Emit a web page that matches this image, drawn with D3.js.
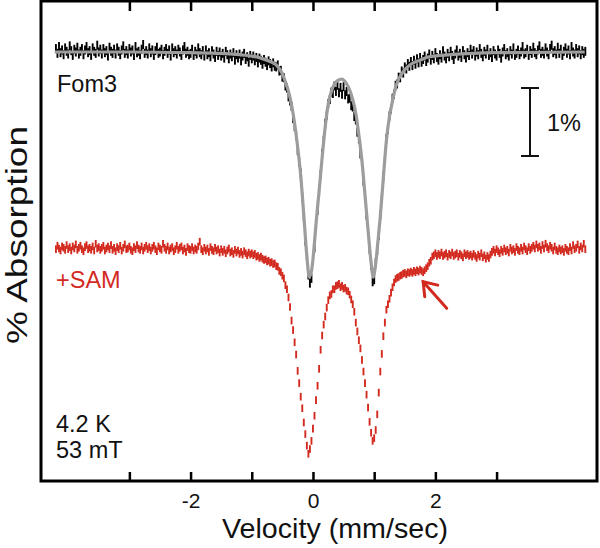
<!DOCTYPE html>
<html>
<head>
<meta charset="utf-8">
<script src="https://cdn.jsdelivr.net/npm/d3@7"></script>
<style>
  html, body { margin: 0; padding: 0; background: #fff; }
  svg text { font-family: "Liberation Sans", Arial, Helvetica, sans-serif; }
</style>
</head>
<body>
<svg id="chart" width="600" height="548"></svg>
<script>
// ---------------- data ----------------
// channel calibration of the velocity axis (mm/sec)
const velocityStart = -4.2;
const velocityStep = 0.025;

// Fom3 (black) — % absorption per channel
const fom3Data = [
-0.05,0.02,-0.08,0.01,-0.03,0.04,-0.06,-0.01,0.03,-0.09,
-0.02,0.05,-0.04,0.00,-0.07,0.03,-0.01,-0.05,0.04,-0.03,
-0.08,0.01,-0.02,0.05,-0.06,-0.01,0.02,-0.10,0.00,-0.04,
0.03,-0.05,0.01,-0.02,0.06,-0.07,-0.01,0.02,-0.04,0.03,
-0.06,-0.01,0.04,-0.03,-0.09,0.02,-0.02,0.03,-0.05,0.00,
-0.03,0.05,-0.08,0.01,-0.01,0.04,-0.04,-0.11,0.02,-0.02,
0.03,-0.06,0.01,-0.03,0.05,-0.02,-0.07,0.02,0.00,-0.04,
0.04,-0.01,-0.05,0.02,-0.03,0.06,-0.06,0.01,-0.02,0.03,
-0.04,0.00,0.05,-0.03,-0.08,0.02,-0.01,0.04,
0.02,-0.04,0.05,-0.01,0.03,-0.06,0.01,0.04,-0.02,0.06,
-0.03,0.04,0.01,0.07,-0.02,0.03,0.08,-0.01,0.05,0.00,
0.06,0.02,0.09,-0.01,0.04,0.10,0.03,0.07,0.01,0.12,
0.04,0.09,0.03,0.13,0.06,0.02,0.11,0.07,0.15,0.05,
0.10,0.06,0.13,0.08,0.16,0.09,0.12,0.18,0.11,0.15,0.20,0.13,0.17,0.22,0.16,0.21,
0.22,0.19,0.28,0.27,0.37,0.38,0.50,0.53,0.66,0.72,0.80,0.98,1.10,1.23,1.45,1.62,1.78,2.13,2.42,2.78,3.00,3.28,3.40,3.33,
3.06,2.88,2.55,2.33,2.06,1.80,1.49,1.30,1.05,0.93,0.76,0.70,0.59,0.61,0.50,0.58,
0.49,0.60,0.52,0.62,0.51,0.63,0.58,0.69,0.68,0.79,0.81,0.95,1.00,1.18,1.28,1.50,
1.63,1.90,2.10,2.40,2.60,2.90,3.14,3.38,3.35,3.10,2.92,2.70,2.40,2.17,1.83,1.60,
1.27,1.14,0.94,0.84,0.68,0.62,0.49,0.47,0.37,0.38,0.28,0.31,0.22,0.25,0.17,0.21,
0.14,0.20,0.12,0.18,0.10,0.16,0.08,0.15,0.11,0.06,0.14,0.09,0.03,0.12,0.05,0.10,
0.01,0.08,0.12,0.04,0.09,-0.02,0.06,0.10,0.02,0.07,-0.01,0.05,0.11,0.03,-0.03,0.06,
0.02,0.08,-0.02,0.04,0.09,0.01,0.05,-0.04,
0.03,-0.02,0.06,0.00,0.04,-0.05,0.02,0.07,-0.01,0.03,
-0.04,0.05,0.01,0.08,-0.02,0.03,0.06,-0.03,0.02,0.09,
0.00,-0.05,0.04,0.01,0.06,-0.02,0.03,-0.06,0.05,0.02,
-0.03,0.04,0.00,-0.08,0.03,0.01,-0.04,0.05,-0.02,0.02,
-0.07,0.01,0.04,-0.03,-0.09,0.02,-0.01,0.03,-0.06,0.00,
0.04,-0.05,-0.10,0.01,-0.02,0.03,-0.07,0.02,-0.04,0.05,
-0.01,-0.06,0.02,-0.03,0.04,-0.08,0.00,0.03,-0.05,0.01,
-0.03,0.04,-0.02,0.02,-0.01
];

// +SAM (red) — % absorption per channel
const samData = [
0.02,-0.03,0.01,0.04,-0.02,0.00,0.03,-0.04,0.02,-0.01,
0.04,-0.02,0.01,-0.05,0.03,0.00,-0.03,0.02,0.05,-0.01,
-0.04,0.02,0.00,0.03,-0.02,0.04,-0.06,0.01,-0.01,0.03,
0.00,-0.03,0.04,0.01,-0.02,0.02,-0.04,0.03,0.00,0.05,
-0.01,0.02,-0.03,0.04,0.00,-0.05,0.02,0.01,-0.02,0.03,
0.05,-0.01,0.02,-0.04,0.01,0.03,-0.02,0.04,0.00,-0.03,
0.02,-0.01,0.04,0.00,-0.03,0.02,0.05,-0.02,0.01,0.03,
-0.06,0.00,0.03,-0.02,0.04,0.01,-0.01,0.05,0.02,-0.03,
0.03,0.00,-0.02,0.04,0.01,0.06,-0.01,0.02,
0.03,-0.01,0.04,0.01,0.03,-0.02,-0.09,0.02,0.05,0.00,
0.04,0.01,0.06,-0.01,0.03,0.05,0.00,0.04,0.02,0.07,
0.02,0.06,0.03,0.08,0.04,0.01,0.07,0.05,0.09,0.03,
0.07,0.04,0.09,0.06,0.10,0.05,0.08,0.11,0.07,0.10,
0.08,0.11,0.09,0.13,0.12,0.15,0.13,0.16,0.18,0.17,0.20,0.19,0.22,0.21,0.24,0.23,
0.27,0.28,0.34,0.36,0.41,0.45,0.55,0.61,0.73,0.87,1.07,1.21,1.39,1.57,1.81,1.99,2.19,2.36,2.57,2.74,2.91,3.03,2.96,2.84,
2.66,2.47,2.24,2.03,1.78,1.50,1.29,1.13,1.01,0.88,0.77,0.70,0.68,0.61,0.61,0.56,
0.55,0.53,0.58,0.56,0.60,0.59,0.63,0.64,0.69,0.76,0.83,0.94,1.10,1.23,1.36,1.48,
1.65,1.82,1.99,2.16,2.35,2.56,2.72,2.84,2.80,2.68,2.45,2.13,1.82,1.56,1.30,1.10,
0.91,0.83,0.75,0.66,0.58,0.51,0.46,0.44,0.43,0.41,0.40,0.38,0.37,0.39,0.36,0.37,
0.35,0.37,0.34,0.36,0.33,0.35,0.32,0.34,0.36,0.33,0.30,0.27,0.22,0.19,0.13,0.11,
0.08,0.12,0.09,0.11,0.07,0.12,0.10,0.08,0.13,0.09,0.11,0.07,0.12,0.10,0.08,0.13,
0.09,0.11,0.14,0.08,0.11,0.09,0.12,0.10,
0.13,0.09,0.12,0.15,0.10,0.13,0.08,0.14,0.11,0.16,
0.12,0.15,0.10,0.06,0.03,0.07,0.02,0.05,0.08,0.03,
0.06,0.01,0.05,0.03,0.07,0.00,0.04,0.02,0.06,-0.01,
0.03,0.05,0.00,0.04,-0.02,0.02,0.05,-0.01,0.03,0.00,
-0.03,0.01,-0.05,0.00,-0.02,0.03,-0.04,0.01,-0.06,-0.01,
0.02,-0.03,0.00,0.04,-0.02,0.03,0.05,0.01,0.04,0.02,
0.06,0.00,0.03,0.05,-0.01,0.04,-0.04,0.02,0.00,-0.05,
0.03,-0.02,0.01,-0.06,0.02
];

// fit to Fom3 (grey line)
const fitVelocity = [-4.22,-3.0,-2.0,-1.5,-1.2,-1.0,-0.85,-0.7,-0.6,-0.5,-0.45,-0.4,-0.35,-0.3,-0.25,-0.2,-0.15,-0.1,-0.06,-0.02,
  0.02,0.06,0.1,0.15,0.2,0.25,0.3,0.35,0.4,0.47,0.55,0.6,0.65,0.7,0.75,0.8,0.85,0.9,0.95,0.985,
  1.02,1.06,1.1,1.15,1.2,1.25,1.3,1.35,1.4,1.5,1.6,1.75,1.9,2.25,3.0,4.44];
const fitAbsorption = [0.00,0.00,0.01,0.02,0.04,0.06,0.09,0.14,0.19,0.32,0.44,0.58,0.78,1.05,1.40,1.82,2.40,3.00,3.31,3.20,
  2.85,2.42,2.05,1.55,1.10,0.76,0.58,0.47,0.42,0.40,0.47,0.56,0.70,0.90,1.22,1.60,2.10,2.62,3.10,3.31,
  3.15,2.80,2.42,1.85,1.30,0.95,0.72,0.52,0.40,0.26,0.18,0.12,0.07,0.04,0.01,0.00];

const samOffset = 2.88;          // vertical offset of the +SAM trace (%)
const xTickValues = [-3, -2, -1, 0, 1, 2, 3];
const xTickLabels = ["", "-2", "", "0", "", "2", ""];
const scaleBarPercent = 1;

// ---------------- layout ----------------
const svg = d3.select("#chart");
const pLeft = 41, pRight = 597, pTop = 1, pBottom = 481;
const RED = "#d32a1f";

const x = d3.scaleLinear().domain([-4.444, 4.641]).range([pLeft, pRight]);
const y = d3.scaleLinear().domain([-0.75, 6.31]).range([pTop, pBottom]);

const toPoints = arr => arr.map((a, i) => ({ v: velocityStart + i * velocityStep, a }));

function drawData(arr, offset, color, half) {
  svg.append("g")
    .selectAll("line")
    .data(toPoints(arr))
    .join("line")
    .attr("x1", d => x(d.v)).attr("x2", d => x(d.v))
    .attr("y1", d => y(d.a + offset) - half)
    .attr("y2", d => y(d.a + offset) + half)
    .attr("stroke", color)
    .attr("stroke-width", 1.9);
}
drawData(fom3Data, 0, "#000", 4.5);
drawData(samData, samOffset, RED, 3.8);

const fitPts = fitVelocity.map((v, i) => ({ v, a: fitAbsorption[i] }));
svg.append("path")
  .datum(fitPts)
  .attr("fill", "none")
  .attr("stroke", "#9d9d9d")
  .attr("stroke-width", 3.2)
  .attr("d", d3.line().x(d => x(d.v)).y(d => y(d.a)).curve(d3.curveMonotoneX));

// axes (ticks inward)
const fmt = d => xTickLabels[xTickValues.indexOf(d)];
const gb = svg.append("g").attr("transform", `translate(0,${pBottom})`)
  .call(d3.axisBottom(x).tickValues(xTickValues).tickFormat(fmt).tickSizeInner(-9).tickSizeOuter(0).tickPadding(12));
gb.select(".domain").remove();
gb.selectAll(".tick line").attr("stroke", "#000").attr("stroke-width", 2.5);
gb.selectAll(".tick text").attr("font-size", 21).attr("fill", "#111")
  .style("font-family", '"Liberation Sans", Arial, sans-serif');

const gt = svg.append("g").attr("transform", `translate(0,${pTop})`)
  .call(d3.axisTop(x).tickValues(xTickValues).tickFormat("").tickSizeInner(-10).tickSizeOuter(0));
gt.select(".domain").remove();
gt.selectAll(".tick line").attr("stroke", "#000").attr("stroke-width", 2.5);

svg.append("rect")
  .attr("x", pLeft).attr("y", pTop)
  .attr("width", pRight - pLeft).attr("height", pBottom - pTop)
  .attr("fill", "none").attr("stroke", "#000").attr("stroke-width", 3);

// axis titles
svg.append("text")
  .attr("x", 335).attr("y", 538)
  .attr("text-anchor", "middle").attr("font-size", 28).attr("fill", "#111")
  .attr("textLength", 226).attr("lengthAdjust", "spacingAndGlyphs")
  .text("Velocity (mm/sec)");
svg.append("text")
  .attr("transform", "translate(27,235) rotate(-90)")
  .attr("text-anchor", "middle").attr("font-size", 30).attr("fill", "#111")
  .attr("textLength", 218).attr("lengthAdjust", "spacingAndGlyphs")
  .text("% Absorption");

// annotations
const ann = (tx, ty, s, c) => svg.append("text").attr("x", tx).attr("y", ty)
  .attr("font-size", 23.5).attr("fill", c).text(s);
ann(57, 92, "Fom3", "#111");
ann(56, 288, "+SAM", RED);
ann(56, 432, "4.2 K", "#111");
ann(56, 458, "53 mT", "#111");

// 1% scale bar
const sbX = x(3.546), sbTop = y(0.53), sbBot = y(0.53 + scaleBarPercent);
const sb = svg.append("g").attr("stroke", "#111").attr("stroke-width", 2);
sb.append("line").attr("x1", sbX).attr("x2", sbX).attr("y1", sbTop).attr("y2", sbBot);
sb.append("line").attr("x1", sbX - 9).attr("x2", sbX + 9).attr("y1", sbTop).attr("y2", sbTop);
sb.append("line").attr("x1", sbX - 9).attr("x2", sbX + 9).attr("y1", sbBot).attr("y2", sbBot);
ann(547, 131, "1%", "#111");

// arrow
const tip = [x(1.80), y(3.38)], tail = [x(2.185), y(3.77)];
const ang = Math.atan2(tail[1] - tip[1], tail[0] - tip[0]);
const headLen = 15, spread = 35.5 * Math.PI / 180;
const ag = svg.append("g").attr("stroke", RED).attr("stroke-width", 3).attr("stroke-linecap", "round").attr("fill", "none");
ag.append("line").attr("x1", tail[0]).attr("y1", tail[1]).attr("x2", tip[0]).attr("y2", tip[1]);
ag.append("polyline").attr("points", [
  [tip[0] + headLen * Math.cos(ang + spread), tip[1] + headLen * Math.sin(ang + spread)],
  tip,
  [tip[0] + headLen * Math.cos(ang - spread), tip[1] + headLen * Math.sin(ang - spread)]
].map(p => p.join(",")).join(" "));
</script>
</body>
</html>
